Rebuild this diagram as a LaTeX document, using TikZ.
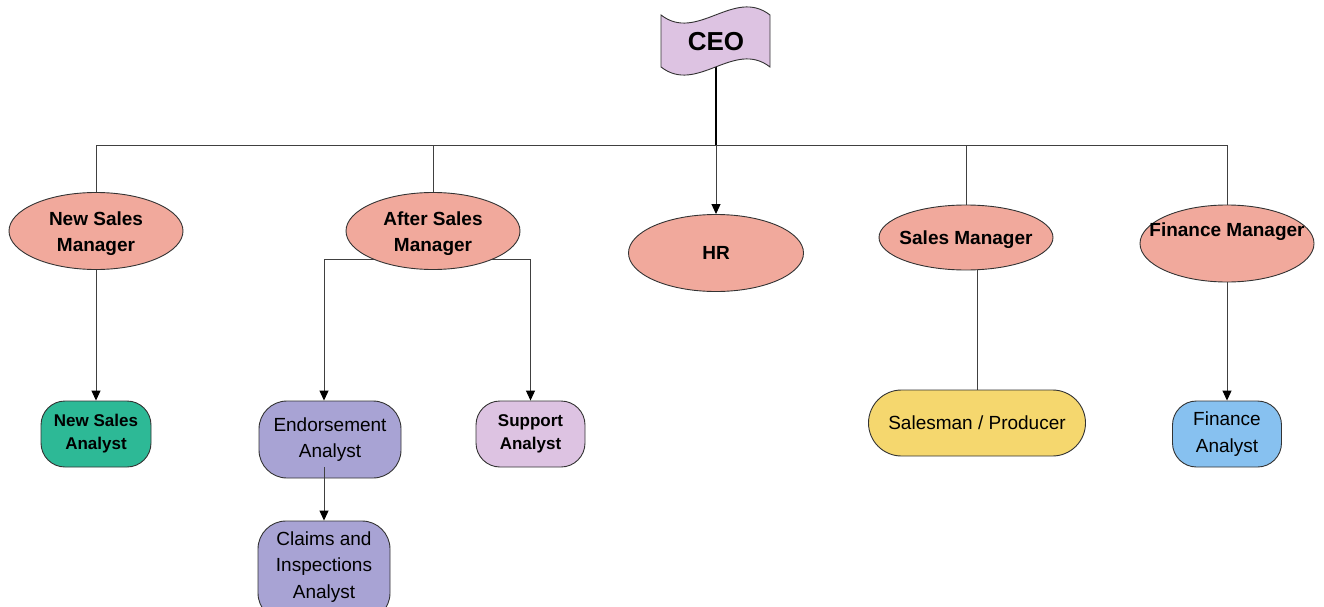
\documentclass[tikz,border=0pt]{standalone}
\usepackage{fontspec}
\setmainfont{Liberation Sans}
\usetikzlibrary{shapes.geometric,arrows.meta,backgrounds,calc}
\definecolor{salmon}{HTML}{F1A99C}
\definecolor{teal}{HTML}{2DB996}
\definecolor{lavender}{HTML}{A8A3D4}
\definecolor{lilac}{HTML}{DDC3E2}
\definecolor{sun}{HTML}{F5D76E}
\definecolor{sky}{HTML}{87C1F0}
\newcommand{\upstrut}{\rule{0pt}{19pt}}
\begin{document}
\begin{tikzpicture}[x=1pt,y=-1pt,
  shapeline/.style={draw=black!80,line width=0.9pt},
  mgr/.style={shapeline,ellipse,fill=salmon,minimum width=174pt,minimum height=77pt,inner sep=0pt,
    align=center,font=\fontsize{19}{26}\selectfont\bfseries},
  rbox/.style={shapeline,rectangle,rounded corners=#1,inner sep=0pt,align=center},
  plain/.style={font=\fontsize{19}{26.5}\selectfont},
  boldsmall/.style={font=\fontsize{17}{23}\selectfont\bfseries},
  edge/.style={draw=black!75,line width=1pt},
  arr/.style={-{Triangle[width=9pt,length=10pt,color=black]}}]
\useasboundingbox (0,0) rectangle (1324,607);
% CEO flag
\draw[shapeline,fill=lilac] (661,15) .. controls (697,43) and (734,-13) .. (770,15)
  -- (770,67) .. controls (734,39) and (697,95) .. (661,67) -- cycle;
\node[inner sep=0pt,minimum width=109pt,minimum height=50pt,font=\fontsize{26}{30}\selectfont\bfseries] (ceo) at (716,42) {CEO};
% managers
\node[mgr] (nsm) at (96,231) {\upstrut New Sales\\Manager};
\node[mgr] (asm) at (433,231) {\upstrut After Sales\\Manager};
\node[mgr,minimum width=175pt] (hr) at (716,253) {HR};
\node[mgr,minimum height=65pt] (sm) at (966,237.5) {\makebox[0pt]{\upstrut Sales Manager}};
\node[mgr] (fm) at (1227,243.5) {\smash{\raisebox{7.5pt}{\makebox[0pt]{Finance Manager}}}};
% analysts
\node[rbox=24pt,fill=teal,boldsmall,minimum width=110pt,minimum height=66pt] (nsa) at (96,434) {New Sales\\Analyst};
\node[rbox=28pt,fill=lavender,plain,minimum width=142pt,minimum height=77pt] (ea) at (330,439.5) {Endorsement\\Analyst};
\node[rbox=28pt,fill=lavender,plain,minimum width=132pt,minimum height=100pt] (ca) at (324,571) {Claims and\\Inspections\\Analyst\rule[-12pt]{0pt}{12pt}};
\node[rbox=24pt,fill=lilac,boldsmall,minimum width=109pt,minimum height=66pt] (sa) at (530.5,434) {Support\\Analyst};
\node[rbox=33pt,fill=sun,plain,minimum width=217pt,minimum height=66pt] (sp) at (977,423) {Salesman / Producer};
\node[rbox=24pt,fill=sky,plain,minimum width=109pt,minimum height=66pt] (fa) at (1227,434) {Finance\\Analyst};
\coordinate (bus) at (0,145);
\begin{scope}[on background layer]
\draw[edge] (ceo.south) -- (ceo.south |- bus) -| (nsm.north);
\draw[edge] (ceo.south) -- (ceo.south |- bus) -| (asm.north);
\draw[edge] (ceo.south) -- (ceo.south |- bus) -| (sm.north);
\draw[edge] (ceo.south) -- (ceo.south |- bus) -| (fm.north);
\draw[edge,arr] (ceo.south) -- (hr.north);
\draw[edge,line width=1.6pt,draw=black] (ceo.south) -- (ceo.south |- bus);
\draw[edge,arr] (nsm.south) -- (nsa.north);
\draw[edge,arr] ([yshift=-28pt]asm.center) -| ([xshift=-6pt]ea.north);
\draw[edge,arr] ([yshift=-28pt]asm.center) -| (sa.north);
\draw[edge] (sm.south -| sp.north) -- (sp.north);
\draw[edge,arr] (fm.south) -- (fa.north);
\end{scope}
\draw[edge,arr] ($(ea.south -| ca.north)+(0,-11)$) -- (ca.north);
\end{tikzpicture}
\end{document}
